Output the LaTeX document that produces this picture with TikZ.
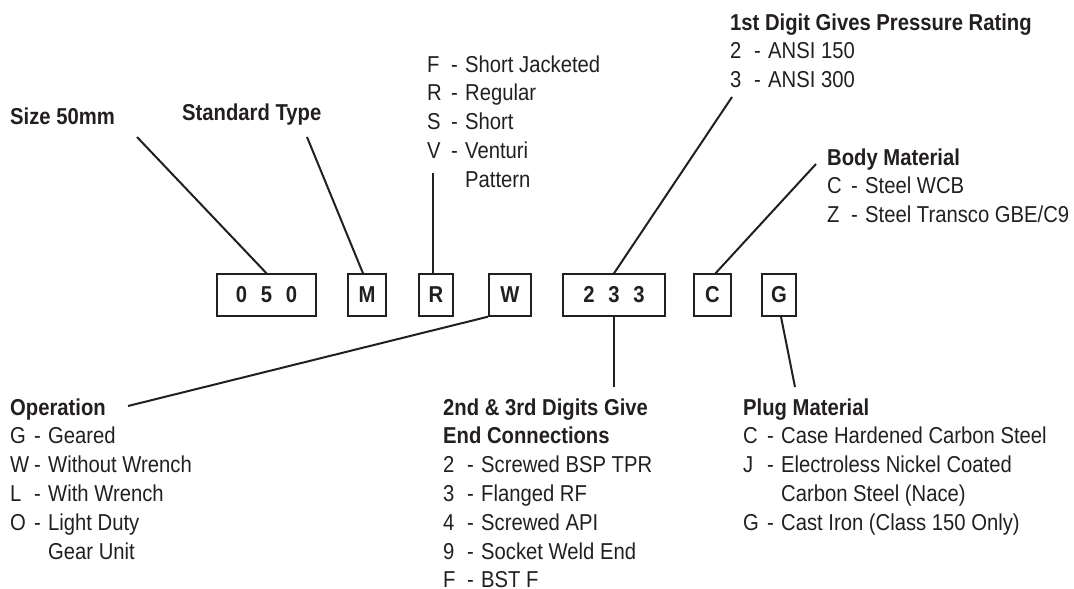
\documentclass[tikz,border=0pt]{standalone}
\usepackage{fontspec}
\setmainfont{Liberation Sans}[FakeStretch=0.88]
\usetikzlibrary{positioning}
\definecolor{ink}{RGB}{35,31,32}
\newcommand{\opt}[2]{\makebox[24pt][l]{#1}\makebox[14pt][l]{-}#2}

\begin{document}
\begin{tikzpicture}[
    x=1pt,
    y=-1pt,
    codebox/.style={
      draw=ink,
      line width=2pt,
      minimum height=41.4pt,
      inner sep=0pt,
      font=\fontsize{23}{28.8}\selectfont\bfseries,
      text=ink
    },
    txt/.style={
      anchor=base west,
      inner sep=0pt,
      font=\fontsize{23}{28.8}\selectfont,
      text=ink
    },
    lead/.style={
      draw=ink,
      line width=2pt
    }
    ]
    \useasboundingbox (0,0) rectangle (1074,589);

    % code boxes
    \node[codebox,minimum width=99pt] (size) at (266.5,295) {0\hspace{0.6em}5\hspace{0.6em}0};
    \node[codebox,minimum width=38pt,right=30pt of size] (type) {M};
    \node[codebox,minimum width=34pt,right=31pt of type] (pattern) {R};
    \node[codebox,minimum width=42pt,right=34pt of pattern] (oper) {W};
    \node[codebox,minimum width=102pt,right=30pt of oper] (conn) {2\hspace{0.6em}3\hspace{0.6em}3};
    \node[codebox,minimum width=37pt,right=27pt of conn] (body) {C};
    \node[codebox,minimum width=34pt,right=29pt of body] (plug) {G};

    % captions above
    \node[txt] (sizelbl) at (10,124) {\textbf{Size 50mm}};
    \node[txt] (typelbl) at (182,120) {\textbf{Standard Type}};
    \node[txt] (patlbl) at (427,72) {\begin{tabular}[t]{@{}l@{}}
      \opt{F}{Short Jacketed}\\
      \opt{R}{Regular}\\
      \opt{S}{Short}\\
      \opt{V}{Venturi}\\
      \hspace*{38pt}Pattern
    \end{tabular}};
    \node[txt] (preslbl) at (730,30) {\begin{tabular}[t]{@{}l@{}}
      \textbf{1st Digit Gives Pressure Rating}\\
      \opt{2}{ANSI 150}\\
      \opt{3}{ANSI 300}
    \end{tabular}};
    \node[txt] (bodylbl) at (827,165) {\begin{tabular}[t]{@{}l@{}}
      \textbf{Body Material}\\
      \opt{C}{Steel WCB}\\
      \opt{Z}{Steel Transco GBE/C9}
    \end{tabular}};

    % captions below
    \node[txt] (operlbl) at (10,415) {\begin{tabular}[t]{@{}l@{}}
      \textbf{Operation}\\
      \opt{G}{Geared}\\
      \opt{W}{Without Wrench}\\
      \opt{L}{With Wrench}\\
      \opt{O}{Light Duty}\\
      \hspace*{38pt}Gear Unit
    \end{tabular}};
    \node[txt] (connlbl) at (443,415) {\begin{tabular}[t]{@{}l@{}}
      \textbf{2nd \& 3rd Digits Give}\\
      \textbf{End Connections}\\
      \opt{2}{Screwed BSP TPR}\\
      \opt{3}{Flanged RF}\\
      \opt{4}{Screwed API}\\
      \opt{9}{Socket Weld End}\\
      \opt{F}{BST F}
    \end{tabular}};
    \node[txt] (pluglbl) at (743,415) {\begin{tabular}[t]{@{}l@{}}
      \textbf{Plug Material}\\
      \opt{C}{Case Hardened Carbon Steel}\\
      \opt{J}{Electroless Nickel Coated}\\
      \hspace*{38pt}Carbon Steel (Nace)\\
      \opt{G}{Cast Iron (Class 150 Only)}
    \end{tabular}};

    % free ends of the leaders
    \coordinate (sizeend) at (137,137);
    \coordinate (typeend) at (307,137);
    \coordinate (patend) at (433,173);
    \coordinate (presend) at (732,97);
    \coordinate (bodyend) at (816,164);
    \coordinate (operend) at (128,406);
    \coordinate (connend) at (614,387);
    \coordinate (plugend) at (795,387);

    \path[lead] (sizeend) -- (size.north);
    \path[lead] (typeend) -- ([xshift=-4pt]type.north);
    \path[lead] (patend) -- (patend |- pattern.north);
    \path[lead] (presend) -- (conn.north);
    \path[lead] (bodyend) -- ([xshift=3pt]body.north);
    \path[lead] (oper.south west) -- (operend);
    \path[lead] (conn.south) -- (connend);
    \path[lead] ([xshift=2pt]plug.south) -- (plugend);

    \end{tikzpicture}
\end{document}
